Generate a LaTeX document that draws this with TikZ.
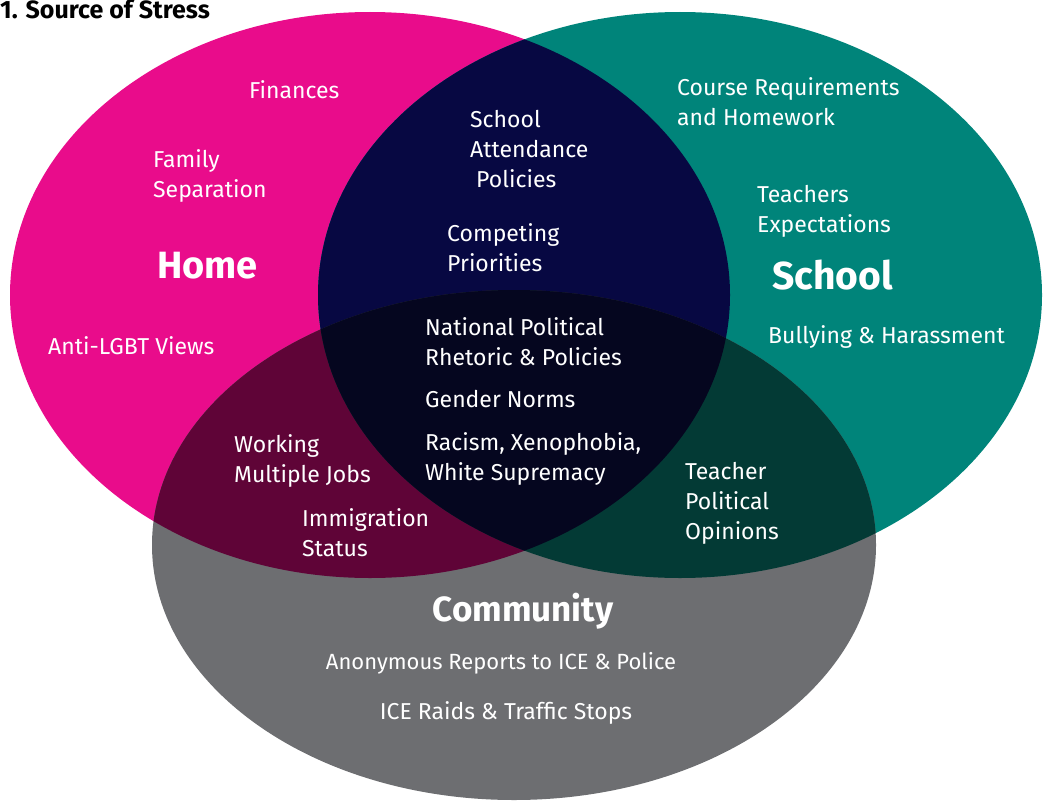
\documentclass[tikz,border=0pt]{standalone}
\usepackage{fontspec}
\setmainfont{Fira Sans}

\definecolor{homecol}{HTML}{E90C8B}
\definecolor{schoolcol}{HTML}{00847A}
\definecolor{commcol}{HTML}{6D6E71}
\definecolor{homeschool}{HTML}{070842}
\definecolor{homecomm}{HTML}{5F0437}
\definecolor{schoolcomm}{HTML}{033A35}
\definecolor{allthree}{HTML}{05061F}

\def\homeset{(370,295) ellipse [x radius=360pt, y radius=283pt]}
\def\schoolset{(680,295) ellipse [x radius=362pt, y radius=283pt]}
\def\commset{(514,545) ellipse [x radius=362pt, y radius=255pt]}

\begin{document}
\begin{tikzpicture}[x=1pt,y=-1pt]
        \tikzstyle{item}=[text=white,align=left,anchor=west,inner sep=0pt,font=\fontsize{23}{30}\selectfont]
        \tikzstyle{area}=[text=white,inner sep=0pt,font=\bfseries\fontsize{36}{40}\selectfont]
        \useasboundingbox (0,0) rectangle (1043,800);
        % the three sets
        \fill[homecol] \homeset;
        \fill[schoolcol] \schoolset;
        \fill[commcol] \commset;
        % overlaps
        \begin{scope}
            \clip \homeset;
            \fill[homeschool] \schoolset;
            \fill[homecomm] \commset;
        \end{scope}
        \begin{scope}
            \clip \schoolset;
            \fill[schoolcomm] \commset;
            \clip \homeset;
            \fill[allthree] \commset;
        \end{scope}
        \node[anchor=base west,inner sep=0pt,font=\bfseries\fontsize{25}{25}\selectfont] (title) at (0,19) {1. Source of Stress};
        % home
        \node[item] (fin) at (249,90) {Finances};
        \node[item] (fam) at (153,176) {Family\\Separation};
        \node[area,anchor=west,font=\bfseries\fontsize{38}{40}\selectfont] (home) at (157,266) {Home};
        \node[item] (lgbt) at (48,346) {Anti-LGBT Views};
        % school
        \node[item] (course) at (677,102) {Course Requirements\\and Homework};
        \node[item] (teachexp) at (757,211) {Teachers\\Expectations};
        \node[area,anchor=west,font=\bfseries\fontsize{39}{40}\selectfont] (school) at (772,275) {School};
        \node[item] (bully) at (768,337) {Bullying \& Harassment};
        % home and school
        \node[item] (attend) at (470,149) {School\\Attendance\\\hspace{6pt}Policies};
        \node[item] (compete) at (447,248) {Competing\\Priorities};
        % all three
        \node[item] (natpol) at (425,342) {National Political\\Rhetoric \& Policies};
        \node[item] (gender) at (425,399) {Gender Norms};
        \node[item] (racism) at (425,459) {Racism, Xenophobia,\\White Supremacy};
        % home and community
        \node[item] (jobs) at (234,461) {Working\\Multiple Jobs};
        \node[item] (immig) at (302,533) {Immigration\\Status};
        % school and community
        \node[item] (teachpol) at (685,503) {Teacher\\Political\\Opinions};
        % community
        \node[area,font=\bfseries\fontsize{35}{40}\selectfont] (community) at (523,611) {Community};
        \node[item,anchor=center,font=\fontsize{22}{30}\selectfont] (anon) at (501,663) {Anonymous Reports to ICE \& Police};
        \node[item,anchor=center] (raids) at (506,713) {ICE Raids \& Traffic Stops};
\end{tikzpicture}
\end{document}
